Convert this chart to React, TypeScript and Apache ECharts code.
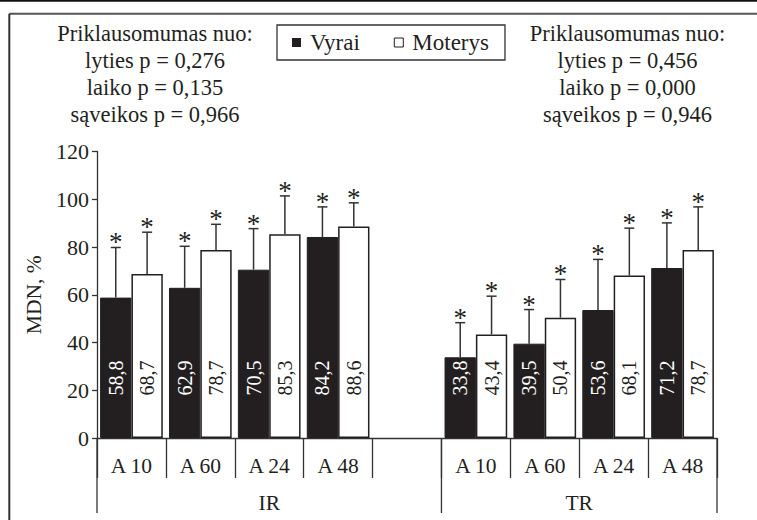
import React, { useEffect, useRef } from "react";
import * as echarts from "echarts";

// ---- data ----
const categories = ["A 10", "A 60", "A 24", "A 48", "", "A 10", "A 60", "A 24", "A 48"];
const groupNames = ["IR", "TR"];
const groupBounds = [0, 5, 9]; // category boundary indexes of the groups
const vyrai = [58.8, 62.9, 70.5, 84.2, null, 33.8, 39.5, 53.6, 71.2];
const moterys = [68.7, 78.7, 85.3, 88.6, null, 43.4, 50.4, 68.1, 78.7];
const vyraiSD = [21.0, 17.4, 17.2, 12.6, null, 14.5, 14.3, 21.2, 18.9];
const moterysSD = [17.5, 10.8, 16.1, 9.9, null, 16.0, 16.0, 19.8, 18.1];
const yTicks = { min: 0, max: 120, interval: 20 };
const leftStats = ["Priklausomumas nuo:", "lyties p = 0,276", "laiko p = 0,135", "sąveikos p = 0,966"];
const rightStats = ["Priklausomumas nuo:", "lyties p = 0,456", "laiko p = 0,000", "sąveikos p = 0,946"];

const FONT = '"Liberation Serif", "Times New Roman", serif';
const INK = "#231f20";
const LINE = "#333333";
const CAT_GAP = 0.09;

function errorSeries(name: string, means: (number | null)[], sds: (number | null)[], side: number) {
  const data = means
    .map((m, i) => [i, m, sds[i]])
    .filter((d) => d[1] != null);
  return {
    type: "custom",
    name: name + " SD",
    data,
    encode: { x: 0, y: 1 },
    z: 5,
    silent: true,
    renderItem: (params: any, api: any) => {
      const i = api.value(0);
      const mean = api.value(1);
      const sd = api.value(2);
      const band = api.size([1, 0])[0];
      const barW = (band * (1 - CAT_GAP)) / 2;
      const base = api.coord([i, mean]);
      const top = api.coord([i, mean + sd]);
      const x = base[0] + (side * barW) / 2;
      const ls = { stroke: LINE, lineWidth: 1.5 };
      return {
        type: "group",
        children: [
          { type: "line", shape: { x1: x, y1: base[1], x2: x, y2: top[1] }, style: ls },
          { type: "line", shape: { x1: x - 5, y1: top[1], x2: x + 5, y2: top[1] }, style: ls },
          {
            type: "text",
            x: x,
            y: top[1] - 5,
            style: {
              text: "*",
              fontFamily: FONT,
              fontSize: 27,
              fill: INK,
              align: "center",
              verticalAlign: "middle",
            },
          },
        ],
      };
    },
  };
}

const fmt = (p: any) => Number(p.value).toFixed(1).replace(".", ",");

export default function App() {
  const ref = useRef<HTMLDivElement>(null);
  useEffect(() => {
    document.body.style.margin = "0";
    const chart = echarts.init(ref.current!, null, { renderer: "svg" });
    const labelBase = {
      show: true,
      position: "insideBottom",
      distance: 60,
      rotate: 90,
      align: "center",
      verticalAlign: "middle",
      fontFamily: FONT,
      fontSize: 20,
      formatter: fmt,
    };
    chart.setOption({
      animation: false,
      textStyle: { fontFamily: FONT, color: INK },
      grid: { left: 97, right: 40, top: 151.5, bottom: 82, containLabel: false },
      legend: {
        left: 277,
        top: 25,
        itemWidth: 9,
        itemHeight: 9,
        itemGap: 34,
        padding: [6, 16, 6, 15],
        borderColor: LINE,
        borderWidth: 1.3,
        selectedMode: false,
        textStyle: { fontFamily: FONT, fontSize: 23, color: INK, padding: [0, 0, 0, 4] },
        data: [
          { name: "Vyrai", icon: "rect", itemStyle: { color: INK, borderWidth: 0 } },
          { name: "Moterys", icon: "rect", itemStyle: { color: "#fff", borderColor: INK, borderWidth: 1 } },
        ],
      },
      xAxis: {
        type: "category",
        data: categories,
        axisLine: { lineStyle: { color: LINE, width: 1.3 } },
        axisTick: { show: true, interval: 0, length: 40, lineStyle: { color: LINE, width: 1.3 } },
        axisLabel: { interval: 0, fontFamily: FONT, fontSize: 21.5, color: INK, margin: 17 },
        splitLine: { show: false },
      },
      yAxis: {
        type: "value",
        min: yTicks.min,
        max: yTicks.max,
        interval: yTicks.interval,
        name: "MDN, %",
        nameLocation: "middle",
        nameGap: 51,
        nameRotate: 90,
        nameTextStyle: { fontFamily: FONT, fontSize: 21.5, color: INK },
        axisLine: { show: true, lineStyle: { color: LINE, width: 1.3 } },
        axisTick: { show: true, length: 5, lineStyle: { color: LINE, width: 1.3 } },
        axisLabel: { fontFamily: FONT, fontSize: 22, color: INK, margin: 8 },
        splitLine: { show: false },
      },
      series: [
        {
          type: "bar",
          name: "Vyrai",
          data: vyrai.map((v) => (v == null ? "-" : v)),
          barGap: "0%",
          barCategoryGap: CAT_GAP * 100 + "%",
          itemStyle: { color: INK, borderColor: INK, borderWidth: 1 },
          label: { ...labelBase, color: "#fff" },
        },
        {
          type: "bar",
          name: "Moterys",
          data: moterys.map((v) => (v == null ? "-" : v)),
          barGap: "0%",
          barCategoryGap: CAT_GAP * 100 + "%",
          itemStyle: { color: "#fff", borderColor: INK, borderWidth: 1.5 },
          label: { ...labelBase, color: INK },
        },
        errorSeries("Vyrai", vyrai, vyraiSD, -1),
        errorSeries("Moterys", moterys, moterysSD, 1),
      ],
    });

    // decorations derived from the axes
    const c0 = chart.convertToPixel({ xAxisIndex: 0 }, 0) as number;
    const c1 = chart.convertToPixel({ xAxisIndex: 0 }, 1) as number;
    const band = c1 - c0;
    const boundary = (k: number) => c0 - band / 2 + k * band;
    const y0 = chart.convertToPixel({ yAxisIndex: 0 }, 0) as number;
    const W = 757;
    const H = 520;
    const graphics: any[] = [
      { type: "rect", shape: { x: 0, y: 0, width: W, height: 1.8 }, style: { fill: "#111" } },
      { type: "line", shape: { x1: 9.3, y1: 13.7, x2: W, y2: 13.7 }, style: { stroke: "#555", lineWidth: 2 } },
      { type: "line", shape: { x1: 9.3, y1: 13.7, x2: 9.3, y2: H }, style: { stroke: "#333", lineWidth: 2 } },
      {
        type: "text",
        x: 155,
        y: 20,
        style: {
          text: leftStats.join("\n"),
          fontFamily: FONT,
          fontSize: 22.5,
          lineHeight: 27,
          fill: INK,
          align: "center",
          verticalAlign: "top",
        },
      },
      {
        type: "text",
        x: 627.5,
        y: 20,
        style: {
          text: rightStats.join("\n"),
          fontFamily: FONT,
          fontSize: 22.5,
          lineHeight: 27,
          fill: INK,
          align: "center",
          verticalAlign: "top",
        },
      },
    ];
    groupBounds.forEach((k) => {
      const x = boundary(k);
      graphics.push({
        type: "line",
        shape: { x1: x, y1: y0, x2: x, y2: y0 + 75 },
        style: { stroke: LINE, lineWidth: 1.3 },
      });
    });
    groupNames.forEach((g, gi) => {
      const x = (boundary(groupBounds[gi]) + boundary(groupBounds[gi + 1])) / 2;
      graphics.push({
        type: "text",
        x,
        y: y0 + 65,
        style: {
          text: g,
          fontFamily: FONT,
          fontSize: 21.5,
          fill: INK,
          align: "center",
          verticalAlign: "middle",
        },
      });
    });
    chart.setOption({ graphic: graphics });
    return () => chart.dispose();
  }, []);
  return (
    <div
      ref={ref}
      style={{ position: "fixed", left: 0, top: 0, width: 757, height: 520, background: "#fff" }}
    />
  );
}
